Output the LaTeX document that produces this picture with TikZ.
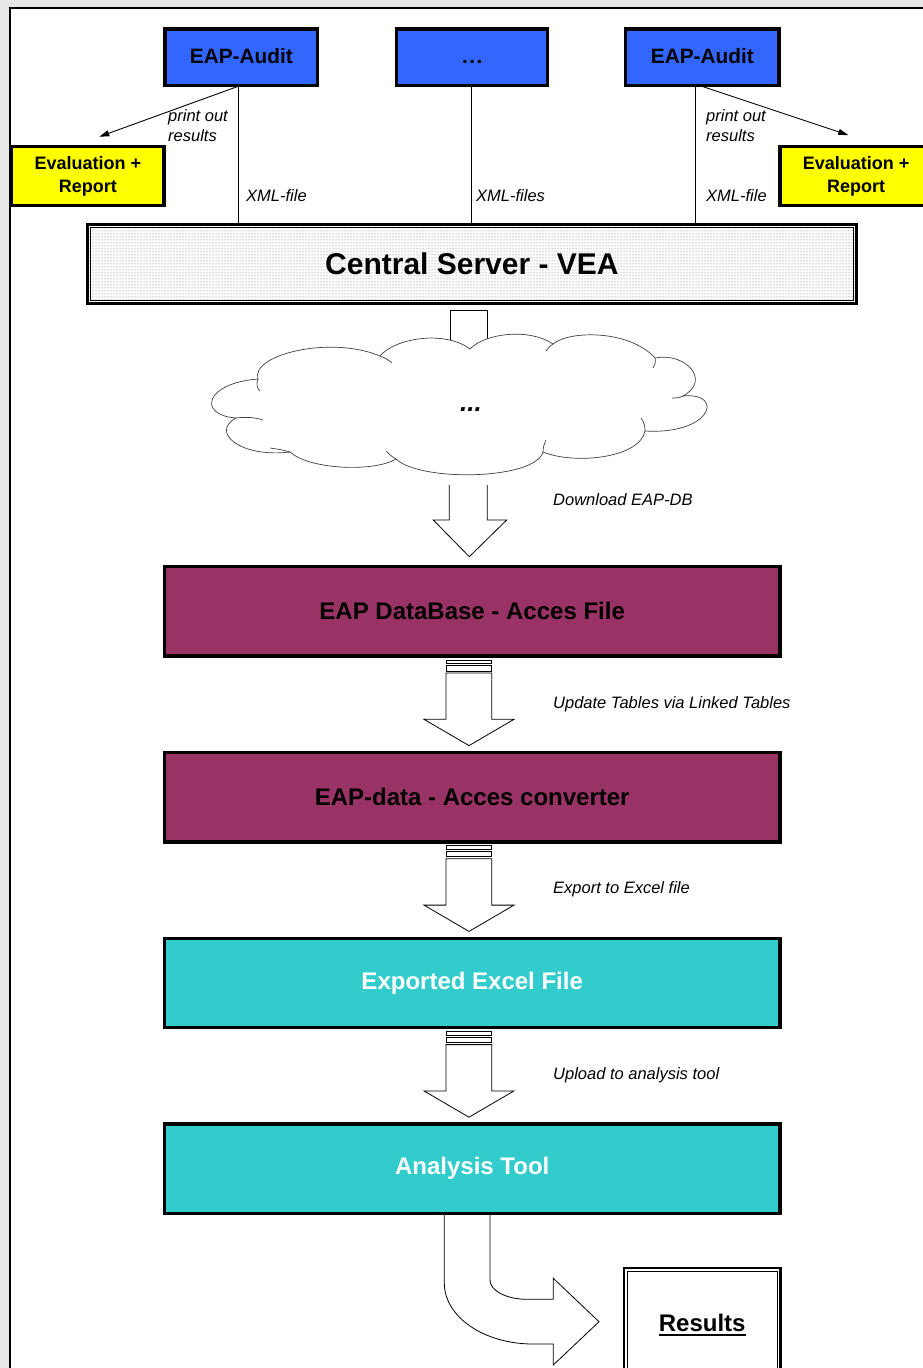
\documentclass[tikz,border=0pt]{standalone}
\usepackage{fontspec}
\setmainfont{Liberation Sans}
\usetikzlibrary{arrows.meta,patterns.meta}
\definecolor{audblue}{HTML}{3366FF}
\definecolor{evalyellow}{HTML}{FFFF00}
\definecolor{dbpurple}{HTML}{993366}
\definecolor{xlteal}{HTML}{33CCCC}
\definecolor{pagegray}{HTML}{E8E8E8}
% heavy underline used for the result label
\newcommand\thickul[1]{\setbox0\hbox{#1}\rlap{\rule[-5pt]{\wd0}{2.4pt}}\box0}
% block arrow with two stripes on top; #1 = vertical offset
\newcommand\stripedarrow[1]{%
  \begin{scope}[shift={(0,#1)}]
    \draw[blockarrow] (446,660) rectangle (491.7,663.3);
    \draw[blockarrow] (446,665.3) rectangle (491.7,671);
    \draw[blockarrow] (446,673) -- (446,719.3) -- (424,719.3) -- (469,745.6)
      -- (514,719.3) -- (491.7,719.3) -- (491.7,673) -- cycle;
  \end{scope}}

\begin{document}
\begin{tikzpicture}[x=1pt,y=-1pt,
  box/.style={draw=black, line width=3.3pt, outer sep=0pt, inner sep=0pt, align=center},
  audit/.style={box, fill=audblue, minimum width=152.7pt, minimum height=56.7pt,
    text height=13pt, text depth=0pt, font=\bfseries\fontsize{20.8}{24}\selectfont},
  evalbox/.style={box, fill=evalyellow, minimum width=152.4pt, minimum height=59pt,
    font=\bfseries\fontsize{18}{23.5}\selectfont},
  widebox/.style={box, line width=3.4pt, minimum width=615.6pt, minimum height=89.3pt,
    font=\bfseries\fontsize{24}{28}\selectfont},
  note/.style={anchor=west, inner sep=0pt, font=\itshape\fontsize{16.5}{20}\selectfont},
  link/.style={line width=0.9pt},
  blockarrow/.style={draw=black, fill=white, line width=0.8pt, line join=miter},
  cloudline/.style={draw=black!75, line width=0.7pt},
]
\clip (0,0) rectangle (923,1368);

% sheet
\fill[pagegray] (0,0) rectangle (923,1368);
\draw[line width=2pt, fill=white] (10,7.7) rectangle (960,1400);

% audit stations
\node[audit] (audL) at (241.3,57.3) {EAP-Audit};
\node[audit, minimum width=151pt] (audM) at (472.2,57.3) {.\hspace{1.5pt}.\hspace{1.5pt}.};
\node[audit, minimum width=153.4pt] (audR) at (702.3,57.3) {EAP-Audit};

% local reports
\node[evalbox] (evalL) at (87.8,176.2) {Evaluation +\\Report};
\node[evalbox] (evalR) at (856.2,176.2) {Evaluation +\\Report};

% central server with dotted fill and double frame
\node[box, line width=2.6pt, preaction={fill=white},
      pattern={Dots[distance=3pt, radius=0.5pt]}, pattern color=black!60,
      minimum width=769.1pt, minimum height=79.1pt,
      font=\bfseries\fontsize{30}{34}\selectfont] (srv) at (471.9,264.2) {Central Server - VEA};
\draw[line width=1pt] ([shift={(3,3)}]srv.north west) rectangle ([shift={(-3,-3)}]srv.south east);

% XML uploads
\draw[link] ([xshift=-3pt]audL.south) -- ([xshift=-3pt]audL.south |- srv.north);
\draw[link] ([xshift=-0.5pt]audM.south) -- ([xshift=-0.5pt]audM.south |- srv.north);
\draw[link] ([xshift=-7.3pt]audR.south) -- ([xshift=-7.3pt]audR.south |- srv.north);
\node[note] (xmlL) at (246,196) {XML-file};
\node[note] (xmlM) at (476,196) {XML-files};
\node[note] (xmlR) at (706,196) {XML-file};

% print-outs
\coordinate (tipL) at ([shift={(11.5,-10)}]evalL.north);
\coordinate (tipR) at ([shift={(-7.9,-11.6)}]evalR.north);
\draw[link, -{Triangle[length=10pt,width=6pt]}] ([xshift=-1.3pt]audL.south) -- (tipL);
\draw[link, -{Triangle[length=10pt,width=6pt]}] ([xshift=-2.3pt]audR.south) -- (tipR);
\node[note, align=left] (prL) at (168,126) {print out\\results};
\node[note, align=left] (prR) at (706,126) {print out\\results};

% server to network
\draw[blockarrow] (450,370) -- (450,310) -- (487.3,310) -- (487.3,370);

% network cloud
\path[cloudline, fill=white]
  (236,418) .. controls (197,415) and (205,383) .. (258,379)
  .. controls (250,355) and (330,335) .. (380,356)
  .. controls (395,338) and (445,330) .. (470,349)
  .. controls (485,333) and (530,328) .. (553,344)
  .. controls (570,330) and (630,330) .. (655,358)
  .. controls (685,352) and (712,380) .. (683,396)
  .. controls (725,392) and (712,435) .. (645,431)
  .. controls (640,458) and (575,465) .. (543,452)
  .. controls (535,480) and (420,482) .. (396,459)
  .. controls (375,472) and (310,470) .. (290,452)
  .. controls (240,458) and (210,432) .. (236,418) -- cycle;
% inner puff strokes
\draw[cloudline] (258,379) .. controls (256,384) and (257,388) .. (260,391);
\draw[cloudline] (380,356) .. controls (385,358) and (389,360) .. (392,363);
\draw[cloudline] (553,344) .. controls (550,346) and (548,348) .. (546,351);
\draw[cloudline] (655,358) .. controls (656,362) and (655,365) .. (653,368);
\draw[cloudline] (683,396) .. controls (679,398) and (676,398) .. (672,398);
\draw[cloudline] (645,431) .. controls (645,426) and (644,422) .. (641,418);
\draw[cloudline] (543,452) .. controls (543,448) and (544,444) .. (546,440);
\draw[cloudline] (396,459) .. controls (392,457) and (389,454) .. (386,451);
\draw[cloudline] (290,452) .. controls (284,450) and (277,449) .. (270,448);
\draw[cloudline] (236,418) .. controls (245,417) and (254,417) .. (263,420);
\node[font=\bfseries\itshape\fontsize{26}{30}\selectfont, inner sep=0pt] (cloudtxt)
      at (471,410) {...};

% download
\draw[blockarrow] (449.3,485) -- (449.3,520) -- (433.3,520) -- (469.3,556.7)
  -- (506.7,520) -- (487.3,520) -- (487.3,485);
\node[note] (lblDl) at (553,500) {Download EAP-DB};

% processing chain
\stripedarrow{0}
\stripedarrow{185.8}
\stripedarrow{371.6}
\node[widebox, fill=dbpurple] (db) at (472.2,611.35) {EAP DataBase - Acces File};
\node[widebox, fill=dbpurple] (conv) at (472.2,797.15) {EAP-data - Acces converter};
\node[widebox, fill=xlteal, text=white] (xls) at (472.2,982.95) {Exported Excel File};
\node[note] (lblUp) at (553,704) {Update Tables via Linked Tables};
\node[note] (lblEx) at (553,889) {Export to Excel file};
\node[note] (lblAn) at (553,1075) {Upload to analysis tool};

% bent arrow to the results
\draw[blockarrow] (444.3,1200) -- (444.3,1283)
  .. controls (444.3,1316.7) and (483.8,1344) .. (533,1344)
  -- (553.3,1344) -- (553.3,1365) -- (599,1321.7) -- (553.3,1278.3) -- (553.3,1299.3)
  -- (527,1299.3) .. controls (506.6,1299.3) and (490,1290.7) .. (490,1280) -- (490,1200);
\node[widebox, fill=xlteal, text=white] (ana) at (472.2,1168.75) {Analysis Tool};

\node[box, line width=2.4pt, fill=white, minimum width=156.6pt, minimum height=114.2pt,
      font=\bfseries\fontsize{24}{28}\selectfont] (res) at (702.2,1325) {\thickul{Results}};
\draw[line width=1.1pt] ([shift={(3.4,3.4)}]res.north west) rectangle ([shift={(-3.4,-3.4)}]res.south east);
\end{tikzpicture}
\end{document}
